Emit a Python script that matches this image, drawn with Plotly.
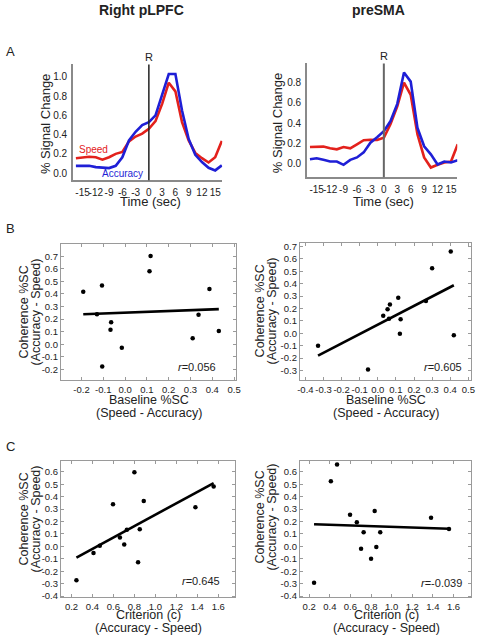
import plotly.graph_objects as go

W, H = 478, 640
FONT = "Liberation Sans, Arial, sans-serif"
TXT = "#222222"
RED = "#e3211c"
BLUE = "#1f1fd6"

# ---------------- data ----------------
time_s = [-16.5, -15, -13.5, -12, -10.5, -9, -7.5, -6, -4.5, -3, -1.5, 0,
          1.5, 3, 4.5, 6, 7.5, 9, 10.5, 12, 13.5, 15, 16.5]
plpfc_speed = [0.155, 0.16, 0.17, 0.165, 0.14, 0.165, 0.2, 0.22, 0.33, 0.38, 0.41, 0.46,
               0.54, 0.72, 0.94, 0.85, 0.53, 0.34, 0.21, 0.155, 0.11, 0.165, 0.335]
plpfc_acc = [0.075, 0.075, 0.076, 0.062, 0.055, 0.052, 0.076, 0.165, 0.34, 0.43, 0.50, 0.53,
             0.60, 0.82, 1.03, 1.03, 0.65, 0.355, 0.19, 0.115, 0.055, 0.028, 0.08]
presma_speed = [0.163, 0.167, 0.167, 0.15, 0.14, 0.163, 0.15, 0.19, 0.23, 0.235, 0.232, 0.255,
                0.39, 0.565, 0.80, 0.68, 0.29, 0.06, -0.04, -0.013, 0.01, 0.02, 0.19]
presma_acc = [0.042, 0.052, 0.036, 0.02, 0.02, -0.013, 0.036, 0.06, 0.11, 0.206, 0.26, 0.32,
              0.42, 0.59, 0.90, 0.81, 0.353, 0.17, 0.09, -0.01, 0.02, 0.01, 0.033]

# B: baseline %SC (Speed - Accuracy) vs coherence %SC (Accuracy - Speed)
bl_x = [-0.192, -0.106, -0.129, -0.064, -0.067, -0.105, -0.015, 0.117, 0.112, 0.387, 0.337, 0.310, 0.430]
bl_y = [0.417, 0.467, 0.238, 0.174, 0.116, -0.177, -0.029, 0.702, 0.581, 0.44, 0.235, 0.047, 0.105]
bl_fit_x = [-0.192, 0.43]
bl_fit_y = [0.238, 0.279]
bl_r = "0.056"

br_x = [-0.33, -0.054, 0.03, 0.054, 0.067, 0.062, 0.113, 0.126, 0.122, 0.266, 0.30, 0.403, 0.42]
br_y = [-0.10, -0.292, 0.141, 0.194, 0.231, 0.117, 0.286, 0.114, -0.003, 0.26, 0.525, 0.66, -0.016]
br_fit_x = [-0.33, 0.42]
br_fit_y = [-0.18, 0.387]
br_r = "0.605"

# C: criterion (Accuracy - Speed) vs coherence %SC
crit_x = [0.247, 0.41, 0.47, 0.596, 0.662, 0.703, 0.728, 0.80, 0.835, 0.851, 0.889, 1.382, 1.556]
cl_y = [-0.273, -0.053, 0.005, 0.34, 0.072, 0.016, 0.135, 0.597, -0.127, 0.138, 0.366, 0.316, 0.483]
cr_y = [-0.292, 0.525, 0.66, 0.255, 0.194, -0.019, 0.114, -0.10, 0.284, -0.005, 0.114, 0.231, 0.141]
cl_fit_x = [0.247, 1.556]
cl_fit_y = [-0.09, 0.51]
cr_fit_x = [0.247, 1.556]
cr_fit_y = [0.178, 0.142]
cl_r = "0.645"
cr_r = "-0.039"

time_ticks = [-15, -12, -9, -6, -3, 0, 3, 6, 9, 12, 15]
a_left_yticks = [0.0, 0.2, 0.4, 0.6, 0.8, 1.0]
a_right_yticks = [0.0, 0.2, 0.4, 0.6, 0.8]
bl_xticks = [-0.2, -0.1, 0.0, 0.1, 0.2, 0.3, 0.4, 0.5]
bl_yticks = [-0.2, -0.1, 0.0, 0.1, 0.2, 0.3, 0.4, 0.5, 0.6, 0.7]
br_xticks = [-0.4, -0.3, -0.2, -0.1, 0.0, 0.1, 0.2, 0.3, 0.4, 0.5]
br_yticks = [-0.3, -0.2, -0.1, 0.0, 0.1, 0.2, 0.3, 0.4, 0.5, 0.6, 0.7]
c_xticks = [0.2, 0.4, 0.6, 0.8, 1.0, 1.2, 1.4, 1.6]
c_yticks = [-0.4, -0.3, -0.2, -0.1, 0.0, 0.1, 0.2, 0.3, 0.4, 0.5, 0.6]


def fmt(vals, d=1):
    return [(f"{v:.{d}f}" if d else f"{v:d}") for v in vals]


def px(x):
    return x / W


def py(y):
    return 1 - y / H


fig = go.Figure()

# -------- Panel A --------
for i, (sp, ac) in enumerate([(plpfc_speed, plpfc_acc), (presma_speed, presma_acc)]):
    ax = "" if i == 0 else "2"
    fig.add_trace(go.Scatter(x=time_s, y=sp, mode="lines", line=dict(color=RED, width=2.6),
                             xaxis="x" + ax, yaxis="y" + ax, showlegend=False))
    fig.add_trace(go.Scatter(x=time_s, y=ac, mode="lines", line=dict(color=BLUE, width=2.6),
                             xaxis="x" + ax, yaxis="y" + ax, showlegend=False))

# -------- Panels B, C --------
scatters = [
    (bl_x, bl_y, bl_fit_x, bl_fit_y, "3"),
    (br_x, br_y, br_fit_x, br_fit_y, "4"),
    (crit_x, cl_y, cl_fit_x, cl_fit_y, "5"),
    (crit_x, cr_y, cr_fit_x, cr_fit_y, "6"),
]
for xs, ys, fx, fy, ax in scatters:
    fig.add_trace(go.Scatter(x=fx, y=fy, mode="lines", line=dict(color="black", width=2.6),
                             xaxis="x" + ax, yaxis="y" + ax, showlegend=False))
    fig.add_trace(go.Scatter(x=xs, y=ys, mode="markers", marker=dict(color="black", size=4.5),
                             xaxis="x" + ax, yaxis="y" + ax, showlegend=False))

line_axis = dict(showline=True, linecolor="#8a8a8a", linewidth=1.5, showgrid=False, zeroline=False,
                 ticks="", tickangle=0, ticklabelstandoff=2,
                 tickfont=dict(size=10, color=TXT, family=FONT))
box_axis = dict(showline=True, linecolor="#9a9a9a", linewidth=1.2, mirror="ticks", showgrid=False,
                zeroline=False, ticks="inside", ticklen=3, tickcolor="#9a9a9a", tickangle=0,
                tickfont=dict(size=9.5, color=TXT, family=FONT))


def dom_x(a, b):
    return [px(a), px(b)]


def dom_y(top, bot):
    return [py(bot), py(top)]


layout_axes = {}
# A left
layout_axes["xaxis"] = dict(line_axis, domain=dom_x(71, 223), anchor="y", range=[-17.2, 16.6],
                            tickvals=time_ticks, ticktext=fmt(time_ticks, 0))
layout_axes["yaxis"] = dict(line_axis, domain=dom_y(63, 180), anchor="x", range=[-0.075, 1.13],
                            tickvals=a_left_yticks, ticktext=fmt(a_left_yticks))
# A right
layout_axes["xaxis2"] = dict(line_axis, domain=dom_x(309, 462), anchor="y2", range=[-17.2, 16.4],
                             tickvals=time_ticks, ticktext=fmt(time_ticks, 0))
layout_axes["yaxis2"] = dict(line_axis, domain=dom_y(62, 177), anchor="x2", range=[-0.137, 0.99],
                             tickvals=a_right_yticks, ticktext=fmt(a_right_yticks))
# B left
layout_axes["xaxis3"] = dict(box_axis, domain=dom_x(59, 237), anchor="y3", range=[-0.294, 0.509],
                             tickvals=bl_xticks, ticktext=fmt(bl_xticks))
layout_axes["yaxis3"] = dict(box_axis, domain=dom_y(244, 382), anchor="x3", range=[-0.288, 0.80],
                             tickvals=bl_yticks, ticktext=fmt(bl_yticks))
# B right
layout_axes["xaxis4"] = dict(box_axis, domain=dom_x(302, 476), anchor="y4", range=[-0.43, 0.515],
                             tickvals=br_xticks, ticktext=fmt(br_xticks))
layout_axes["yaxis4"] = dict(box_axis, domain=dom_y(243, 382), anchor="x4", range=[-0.38, 0.73],
                             tickvals=br_yticks, ticktext=fmt(br_yticks))
# C left
layout_axes["xaxis5"] = dict(box_axis, domain=dom_x(59, 236), anchor="y5", range=[0.1, 1.76],
                             tickvals=c_xticks, ticktext=fmt(c_xticks))
layout_axes["yaxis5"] = dict(box_axis, domain=dom_y(463, 601), anchor="x5", range=[-0.41, 0.69],
                             tickvals=c_yticks, ticktext=fmt(c_yticks))
# C right
layout_axes["xaxis6"] = dict(box_axis, domain=dom_x(302, 476), anchor="y6", range=[0.11, 1.77],
                             tickvals=c_xticks, ticktext=fmt(c_xticks))
layout_axes["yaxis6"] = dict(box_axis, domain=dom_y(463, 601), anchor="x6", range=[-0.41, 0.69],
                             tickvals=c_yticks, ticktext=fmt(c_yticks))

fig.update_layout(**layout_axes)

shapes = [
    dict(type="line", xref="x", yref="y domain", x0=0, x1=0, y0=0, y1=1,
         line=dict(color="#222222", width=1.5)),
    dict(type="line", xref="x2", yref="y2 domain", x0=0, x1=0, y0=0, y1=1,
         line=dict(color="#666666", width=2)),
]

ann = []


def text(x, y, s, size=13, angle=0, color=TXT, xanchor="center"):
    ann.append(dict(x=px(x), y=py(y), xref="paper", yref="paper", text=s, showarrow=False,
                    textangle=angle, xanchor=xanchor, yanchor="middle",
                    font=dict(size=size, color=color, family=FONT)))


# titles
text(141, 8, "<b>Right pLPFC</b>", size=14)
text(382, 8, "<b>preSMA</b>", size=14)
# panel letters
text(8, 50, "A", size=13)
text(8, 229, "B", size=13)
text(8, 449, "C", size=13)
# R labels
ann.append(dict(x=0, y=py(56), xref="x", yref="paper", text="R", showarrow=False,
                yanchor="middle", font=dict(size=11, color=TXT, family=FONT)))
ann.append(dict(x=0, y=py(55), xref="x2", yref="paper", text="R", showarrow=False,
                yanchor="middle", font=dict(size=11, color=TXT, family=FONT)))
# A axis titles
text(44, 123, "% Signal Change", size=13, angle=-90)
text(280, 122, "% Signal Change", size=13, angle=-90)
text(150, 201, "Time (sec)", size=13)
text(387, 201, "Time (sec)", size=13)
# series labels
text(92, 149, "Speed", size=10, color=RED)
text(122, 173, "Accuracy", size=10, color=BLUE)

# B/C axis titles
for (x1, x2, yc) in [(21.7, 34.0, 313), (261.7, 274.0, 312), (21.7, 34.0, 522), (261.7, 274.0, 520)]:
    text(x1, yc, "Coherence %SC", size=12.5, angle=-90)
    text(x2, yc, "(Accuracy - Speed)", size=12.5, angle=-90)
for xc in [148, 390]:
    text(xc, 402, "Baseline %SC", size=12.5)
    text(xc, 415, "(Speed - Accuracy)", size=12.5)
for xc in [148, 390]:
    text(xc, 619, "Criterion (c)", size=12.5)
    text(xc, 632, "(Accuracy - Speed)", size=12.5)

# r values
text(219, 368, "<i>r</i>=" + bl_r, size=11, xanchor="right")
text(469, 368, "<i>r</i>=" + br_r, size=11, xanchor="right")
text(223, 584, "<i>r</i>=" + cl_r, size=11, xanchor="right")
text(469, 587, "<i>r</i>=" + cr_r, size=11, xanchor="right")

fig.update_layout(width=W, height=H, margin=dict(l=0, r=0, t=0, b=0),
                  paper_bgcolor="white", plot_bgcolor="white",
                  font=dict(family=FONT, color=TXT), shapes=shapes, annotations=ann,
                  showlegend=False)

fig.write_html("out.html", config={"displayModeBar": False},
               post_script="document.body.style.margin='0';document.body.style.overflow='hidden';")
